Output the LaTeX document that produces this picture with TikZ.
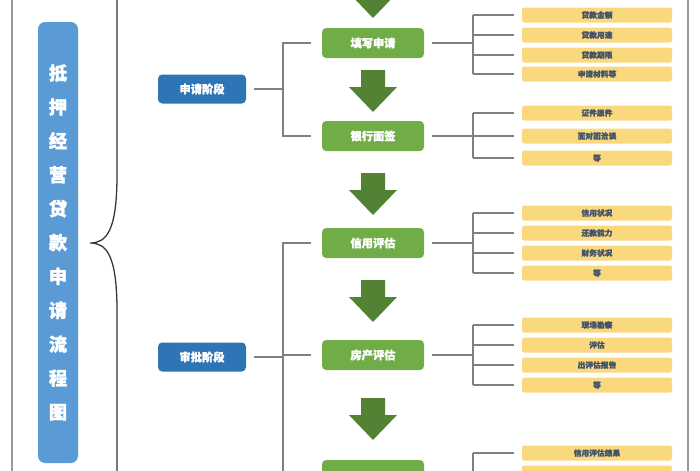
\documentclass[tikz,border=0pt]{standalone}
\usepackage{fontspec}
\newfontfamily\cjk{Noto Sans CJK SC}[BoldFeatures={FakeBold=1.5}]
\usetikzlibrary{positioning,calc}
\definecolor{titleblue}{HTML}{5B9BD5}
\definecolor{phaseblue}{HTML}{2E75B6}
\definecolor{stepgreen}{HTML}{70AD47}
\definecolor{arrowgreen}{HTML}{548235}
\definecolor{itemyellow}{HTML}{FAD97E}
\definecolor{itemtext}{HTML}{44546A}
\definecolor{linegray}{HTML}{7F7F7F}
\tikzset{
    % Title bar
    title bar/.style={
        rectangle, rounded corners=5pt, fill=titleblue,
        minimum width=40*0.025cm, minimum height=441*0.025cm,
        text=white, font=\cjk\bfseries\fontsize{13}{24.1}\selectfont,
        align=center, inner sep=0pt
    },
    % Phase node
    phase/.style={
        rectangle, rounded corners=3pt, fill=phaseblue, text=white,
        minimum width=88*0.025cm, minimum height=29*0.025cm,
        font=\cjk\bfseries\fontsize{8}{9}\selectfont, inner sep=0pt
    },
    % Stage node
    stage/.style={
        rectangle, rounded corners=3pt, fill=stepgreen, text=white,
        minimum width=102*0.025cm, minimum height=30*0.025cm,
        font=\cjk\bfseries\fontsize{8}{9}\selectfont, inner sep=0pt
    },
    % Detail item
    item/.style={
        rectangle, rounded corners=1.5pt, fill=itemyellow, text=itemtext,
        minimum width=150*0.025cm, minimum height=15*0.025cm,
        font=\cjk\bfseries\fontsize{5.5}{6}\selectfont, inner sep=0pt
    },
    % Connector
    link/.style={draw=linegray, line width=0.9pt},
    frame/.style={draw=linegray!80, line width=0.8pt}
}
\newcommand{\downarrowbig}[1]{%
    \fill[arrowgreen] (361,#1) -- (385,#1) -- (385,#1+17) -- (397,#1+17)
        -- (373,#1+42) -- (349,#1+17) -- (361,#1+17) -- cycle;}

\begin{document}
\begin{tikzpicture}[x=0.025cm, y=-0.025cm]
    \useasboundingbox (0,0) rectangle (700,470);
    \clip (0,0) rectangle (700,470);

    % Frame lines
    \draw[frame] (12,-5) -- (12,475);
    \draw[frame] (688,-5) -- (688,475);
    \draw[draw=black!80, line width=0.9pt] (117,-5) -- (117,175)
        .. controls (117,232) and (106,243) .. (90,243)
        .. controls (106,243) and (117,254) .. (117,311) -- (117,475);

    % Title
    \node[title bar] (title) at (58,242.5) {抵\\押\\经\\营\\贷\\款\\申\\请\\流\\程\\图};

    % Phases
    \node[phase] (apply) at (202,89) {申请阶段};
    \node[phase] (approve) at (202,357) {审批阶段};

    % Stages
    \node[stage] (fill) at (373,43) {填写申请};
    \node[stage] (sign) at (373,136) {银行面签};
    \node[stage] (credit) at (373,243) {信用评估};
    \node[stage] (house) at (373,355) {房产评估};
    \node[stage] (last) at (373,475) {};

    % Big arrows
    \downarrowbig{-24}
    \downarrowbig{70}
    \downarrowbig{173}
    \downarrowbig{280}
    \downarrowbig{398}

    % Phase connectors
    \coordinate (j1) at (283,89);
    \draw[link] ([xshift=8*0.025cm]apply.east) -- (j1);
    \draw[link] ([xshift=-11*0.025cm]fill.west) -| (j1) |- ([xshift=-11*0.025cm]sign.west);
    \coordinate (j2) at (283,357);
    \draw[link] ([xshift=8*0.025cm]approve.east) -- (j2);
    \draw[link] ([xshift=-11*0.025cm]credit.west) -| (283,480);
    \draw[link] (j2) |- ([xshift=-11*0.025cm]house.west);

    % Detail items
    \foreach \sn/\ys/\texts in {
        fill/{15,35,55,74}/{贷款金额,贷款用途,贷款期限,申请材料等},
        sign/{113,136,158}/{证件原件,面对面洽谈,等},
        credit/{213,233,253,273}/{信用状况,还款能力,财务状况,等},
        house/{325,345,365,385}/{现场勘察,评估,出评估报告,等},
        last/{453,473}/{信用评估结果,{}}} {
        \draw[link] ([xshift=8*0.025cm]\sn.east) -- ++(41,0);
        \foreach \y [count=\i] in \ys {
            \node[item] (\sn-\i) at (597,\y) {};
            \draw[link] (473,\y) -- ([xshift=-8*0.025cm]\sn-\i.west);
        }
        \foreach \t [count=\i] in \texts {
            \node[font=\cjk\bfseries\fontsize{5.5}{6}\selectfont, text=itemtext] at (\sn-\i) {\t};
        }
    }
    % Branch verticals
    \draw[link] (473,15) -- (473,74);
    \draw[link] (473,113) -- (473,158);
    \draw[link] (473,213) -- (473,273);
    \draw[link] (473,325) -- (473,385);
    \draw[link] (473,453) -- (473,480);
\end{tikzpicture}
\end{document}
